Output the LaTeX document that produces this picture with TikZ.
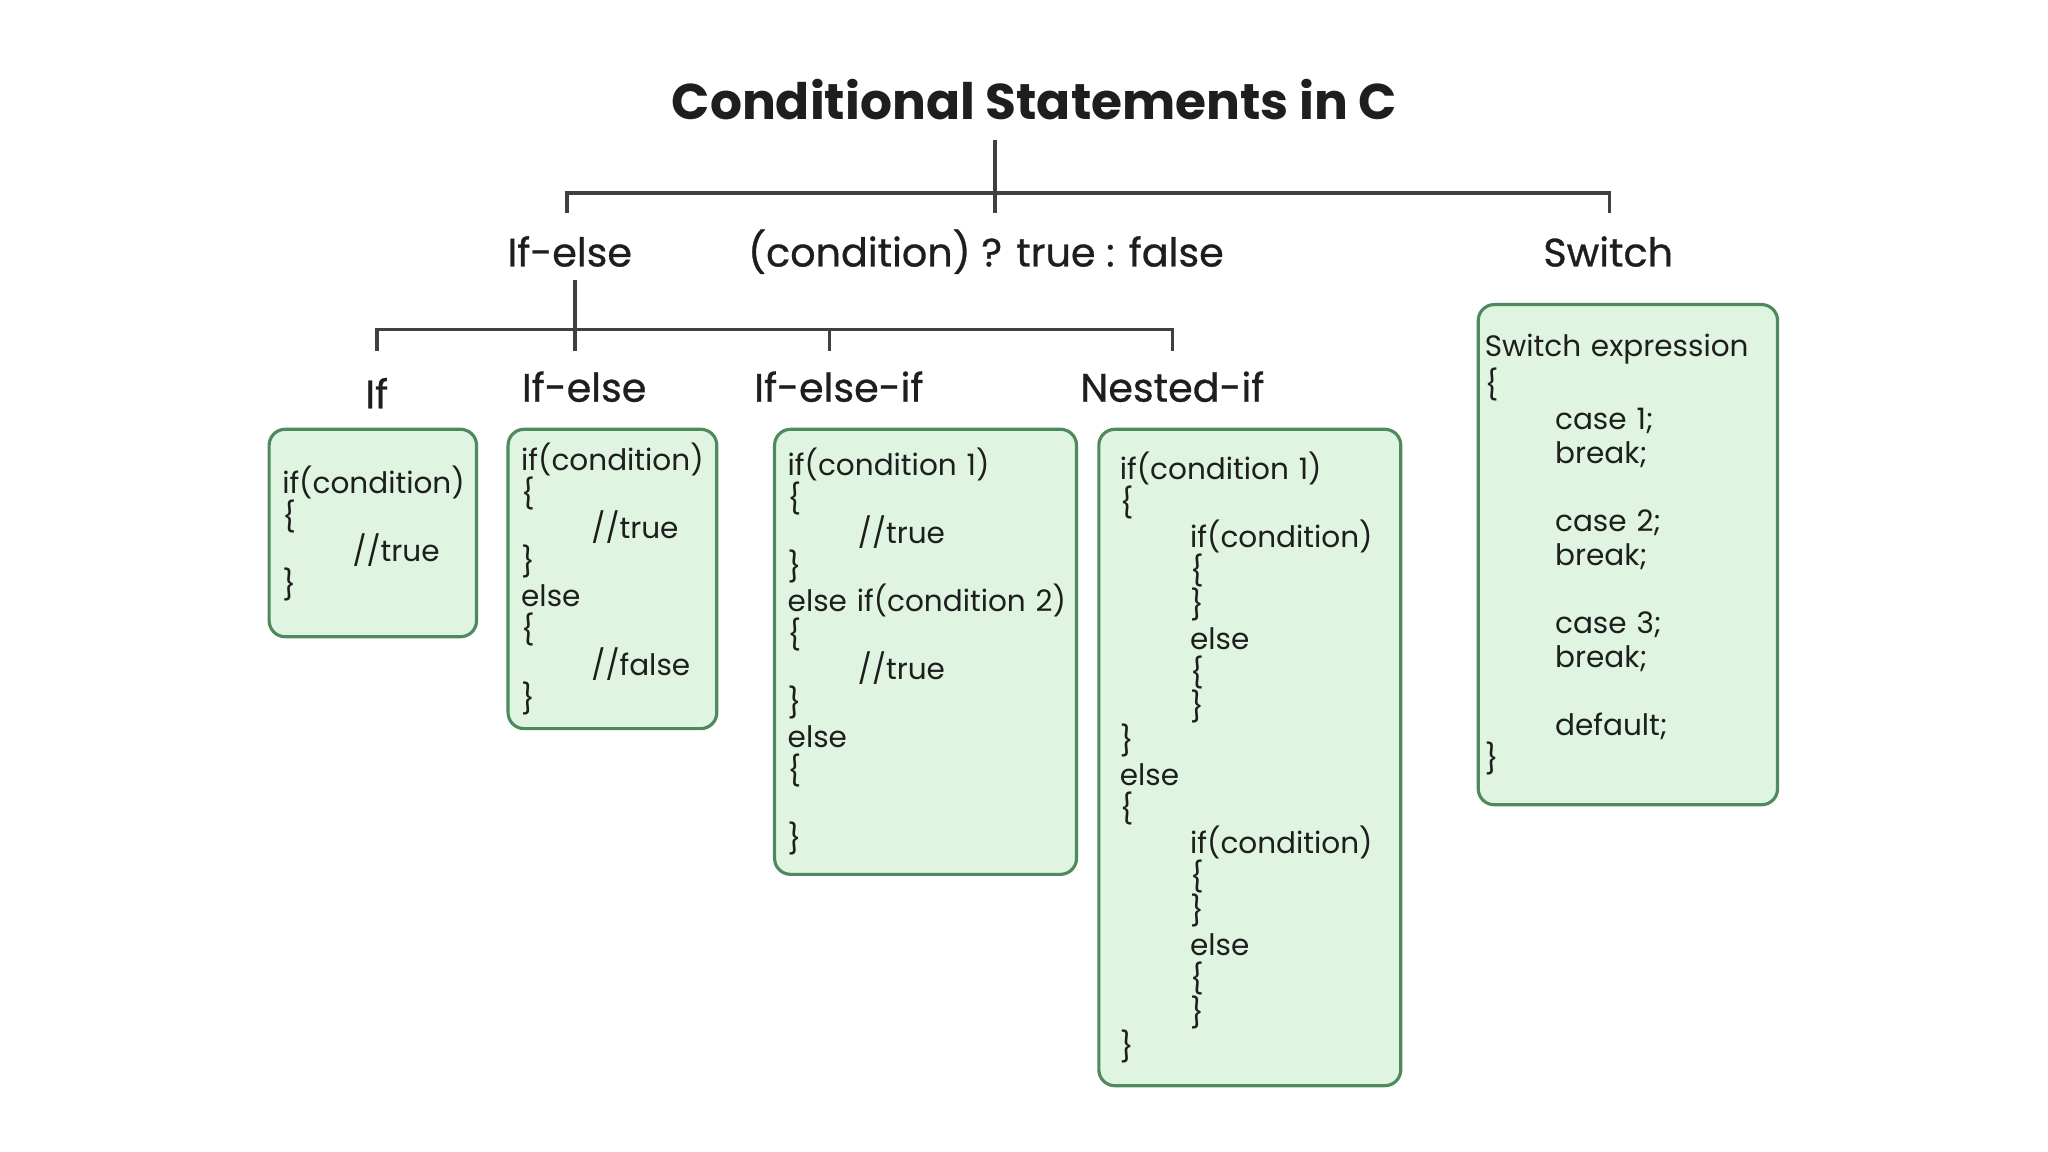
\documentclass[tikz,border=0pt]{standalone}
\usepackage{fontspec}
\setmainfont{Poppins}
\newfontfamily\headfont{Poppins}[FakeBold=0.7]
\usetikzlibrary{positioning}

\definecolor{boxfill}{HTML}{DFF5E2}
\definecolor{boxborder}{HTML}{4E8A5E}
\definecolor{inkgrey}{HTML}{1E1E1E}
\newlength\dpx
\setlength\dpx{0.1313mm}
\newcommand\codetab{\hspace*{20pt}}

\begin{document}
\begin{tikzpicture}[x=0.1313mm, y=-0.1313mm,
    tree/.style={draw=inkgrey!85, line width=1pt},
    head/.style={anchor=base, inner sep=0pt, text=inkgrey, font=\headfont\fontsize{11.3}{13}\selectfont},
    codebox/.style={draw=boxborder, fill=boxfill, line width=0.9pt, rounded corners=1.6mm,
        align=left, inner ysep=0pt, text=inkgrey, font=\fontsize{8.4}{9.68}\selectfont}]
    \useasboundingbox (0,0) rectangle (1560,877.5);

    % Draw headings
    \node[head, font=\bfseries\fontsize{14.3}{16}\selectfont] (title) at (788, 91) {Conditional Statements in C};

    \node[head] (ifelse) at (434, 203) {If-else};
    \node[head] (ternary) at (751, 203) {(condition) ? true : false};
    \node[head] (switch) at (1225, 203) {Switch};

    \node[head] (ifkind) at (287, 311) {If};
    \node[head] (ifelsekind) at (445, 306) {If-else};
    \node[head] (elseifkind) at (639, 306) {If-else-if};
    \node[head] (nestedkind) at (893, 306) {Nested-if};

    % Draw code boxes
    \node[codebox, inner xsep=10\dpx, minimum width=158\dpx, minimum height=158\dpx, text width=138\dpx] (ifbox) at (284, 406)
        {if(condition)\\ \{\\ \codetab//true\\ \}};
    \node[codebox, inner xsep=10\dpx, minimum width=159\dpx, minimum height=228\dpx, text width=139\dpx] (ifelsebox) at (466.5, 441)
        {if(condition)\\ \{\\ \codetab//true\\ \}\\ else\\ \{\\ \codetab//false\\ \}};
    \node[codebox, inner xsep=10\dpx, minimum width=230\dpx, minimum height=339\dpx, text width=210\dpx] (elseifbox) at (705, 496.5)
        {if(condition 1)\\ \{\\ \codetab//true\\ \}\\ \mbox{else if(condition 2)}\\ \{\\ \codetab//true\\ \}\\ else\\ \{\\[9.68pt] \}};
    \node[codebox, inner xsep=16\dpx, minimum width=230\dpx, minimum height=500\dpx, text width=198\dpx] (nestedbox) at (952, 577)
        {if(condition 1)\\ \{\\ \codetab if(condition)\\ \codetab\{\\ \codetab\}\\ \codetab else\\ \codetab\{\\ \codetab\}\\ \}\\
         else\\ \{\\ \codetab if(condition)\\ \codetab\{\\ \codetab\}\\ \codetab else\\ \codetab\{\\ \codetab\}\\ \}};
    \node[codebox, inner xsep=5\dpx, minimum width=228\dpx, minimum height=381\dpx, text width=218\dpx] (switchbox) at (1240, 422.5)
        {Switch expression\\ \{\\ \codetab case 1;\\ \codetab break;\\[9.68pt] \codetab case 2;\\ \codetab break;\\[9.68pt]
         \codetab case 3;\\ \codetab break;\\[9.68pt] \codetab default;\\ \}};

    % Draw tree lines
    \coordinate (roottop) at (758, 107);
    \coordinate (rootbar) at (758, 147);
    \coordinate (rootend) at (758, 162);
    \coordinate (ifelsedrop) at (432, 162);
    \coordinate (switchdrop) at (1226, 162);
    \draw[tree] (roottop) -- (rootend);
    \draw[tree] (ifelsedrop) |- (rootbar) -| (switchdrop);

    \coordinate (subtop) at (438, 213);
    \coordinate (subbar) at (438, 251);
    \coordinate (subend) at (438, 267);
    \coordinate (ifdrop) at (287, 267);
    \coordinate (elseifdrop) at (632, 267);
    \coordinate (nesteddrop) at (893, 267);
    \draw[tree] (subtop) -- (subend);
    \draw[tree] (ifdrop) |- (subbar) -| (nesteddrop);
    \draw[tree] (elseifdrop) -- (elseifdrop |- subbar);
\end{tikzpicture}
\end{document}
